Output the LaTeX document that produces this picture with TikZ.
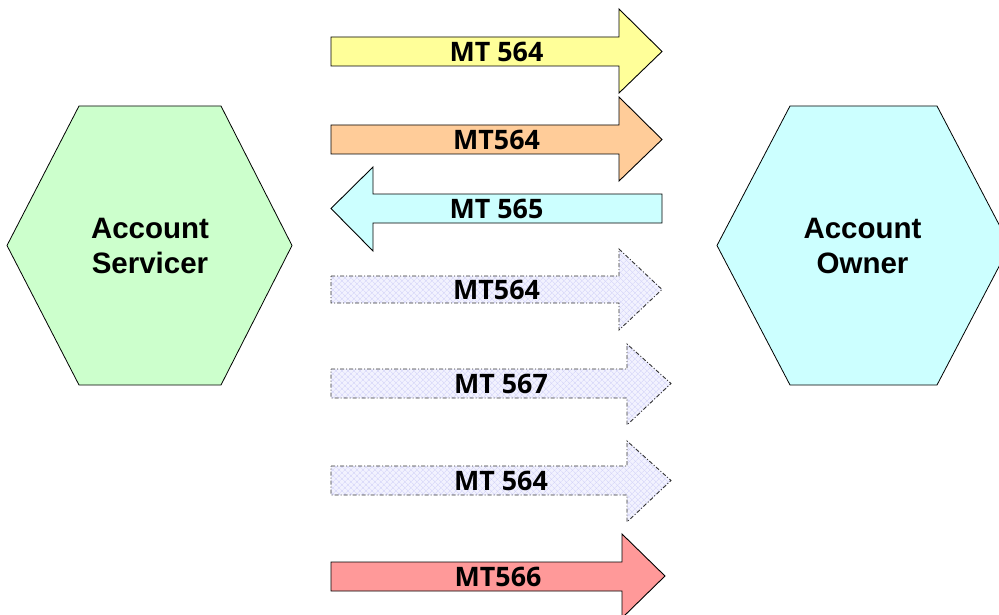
\documentclass[tikz,border=0pt]{standalone}
\usepackage{fontspec}
\setmainfont{Liberation Sans}
\newfontfamily\labfont{Open Sans}
\usetikzlibrary{patterns.meta}
\definecolor{hexgreen}{RGB}{204,255,204}
\definecolor{hexcyan}{RGB}{204,255,255}
\definecolor{arryellow}{RGB}{255,255,153}
\definecolor{arrorange}{RGB}{255,204,153}
\definecolor{arrcyan}{RGB}{204,255,255}
\definecolor{arrred}{RGB}{255,153,153}
\definecolor{hatchbase}{RGB}{242,242,254}
\definecolor{hatchline}{RGB}{210,210,248}
\tikzset{
  hexshape/.style={draw=black, line width=0.8pt, line join=miter},
  hextext/.style={font=\fontsize{29.5}{35}\selectfont\bfseries, align=center, inner sep=0pt},
  solidarrow/.style={draw=black, line width=0.9pt, line join=miter},
  hatcharrow/.style={draw=black!80, line width=0.9pt,
    dash pattern=on 4pt off 2pt on 1pt off 2pt,
    preaction={fill=hatchbase},
    preaction={pattern={Lines[angle=45,distance=4pt,line width=0.6pt]}, pattern color=hatchline},
    preaction={pattern={Lines[angle=-45,distance=4pt,line width=0.6pt]}, pattern color=hatchline}},
  arrlabel/.style={font=\labfont\fontsize{26.8}{30}\selectfont\bfseries, inner sep=0pt}
}
\begin{document}
\begin{tikzpicture}[x=1pt,y=-1pt]
\useasboundingbox (0,0) rectangle (999,615);
\clip (0,0) rectangle (999,615);
% hexagons
\path[hexshape, fill=hexgreen] (79,106) -- (221,106) -- (292,245.5) -- (221,385) -- (79,385) -- (7,245.5) -- cycle;
\node[hextext] (servicer) at (150,245.5) {Account\\Servicer};
\path[hexshape, fill=hexcyan] (790,106) -- (937,106) -- (1010,245.5) -- (937,385) -- (790,385) -- (717,245.5) -- cycle;
\node[hextext] (owner) at (862.5,245.5) {Account\\Owner};
% arrow 1
\path[solidarrow, fill=arryellow] (331,37) -- (619,37) -- (619,9) -- (662,51.5) -- (619,93) -- (619,66) -- (331,66) -- cycle;
\node[arrlabel] (m1) at (496.5,51.5) {MT 564};
% arrow 2
\path[solidarrow, fill=arrorange] (331,125) -- (619,125) -- (619,97) -- (662,139.5) -- (619,181) -- (619,154) -- (331,154) -- cycle;
\node[arrlabel] (m2) at (496.5,139.5) {MT564};
% arrow 3 (leftwards)
\path[solidarrow, fill=arrcyan] (662,194) -- (373,194) -- (373,167) -- (331,208.5) -- (373,251) -- (373,223) -- (662,223) -- cycle;
\node[arrlabel] (m3) at (496.5,208.5) {MT 565};
% arrow 4
\path[hatcharrow] (331,276) -- (619,276) -- (619,249) -- (662,289.5) -- (619,330) -- (619,303) -- (331,303) -- cycle;
\node[arrlabel] (m4) at (496.5,289.5) {MT564};
% arrow 5
\path[hatcharrow] (331,369) -- (627,369) -- (627,344) -- (671,383.5) -- (627,425) -- (627,398) -- (331,398) -- cycle;
\node[arrlabel] (m5) at (501,383.5) {MT 567};
% arrow 6
\path[hatcharrow] (331,466) -- (627,466) -- (627,441) -- (671,480.5) -- (627,522) -- (627,495) -- (331,495) -- cycle;
\node[arrlabel] (m6) at (501,480.5) {MT 564};
% arrow 7
\path[solidarrow, fill=arrred] (331,562) -- (622,562) -- (622,534) -- (665,576) -- (622,618) -- (622,591) -- (331,591) -- cycle;
\node[arrlabel] (m7) at (498,576.5) {MT566};
\end{tikzpicture}
\end{document}
